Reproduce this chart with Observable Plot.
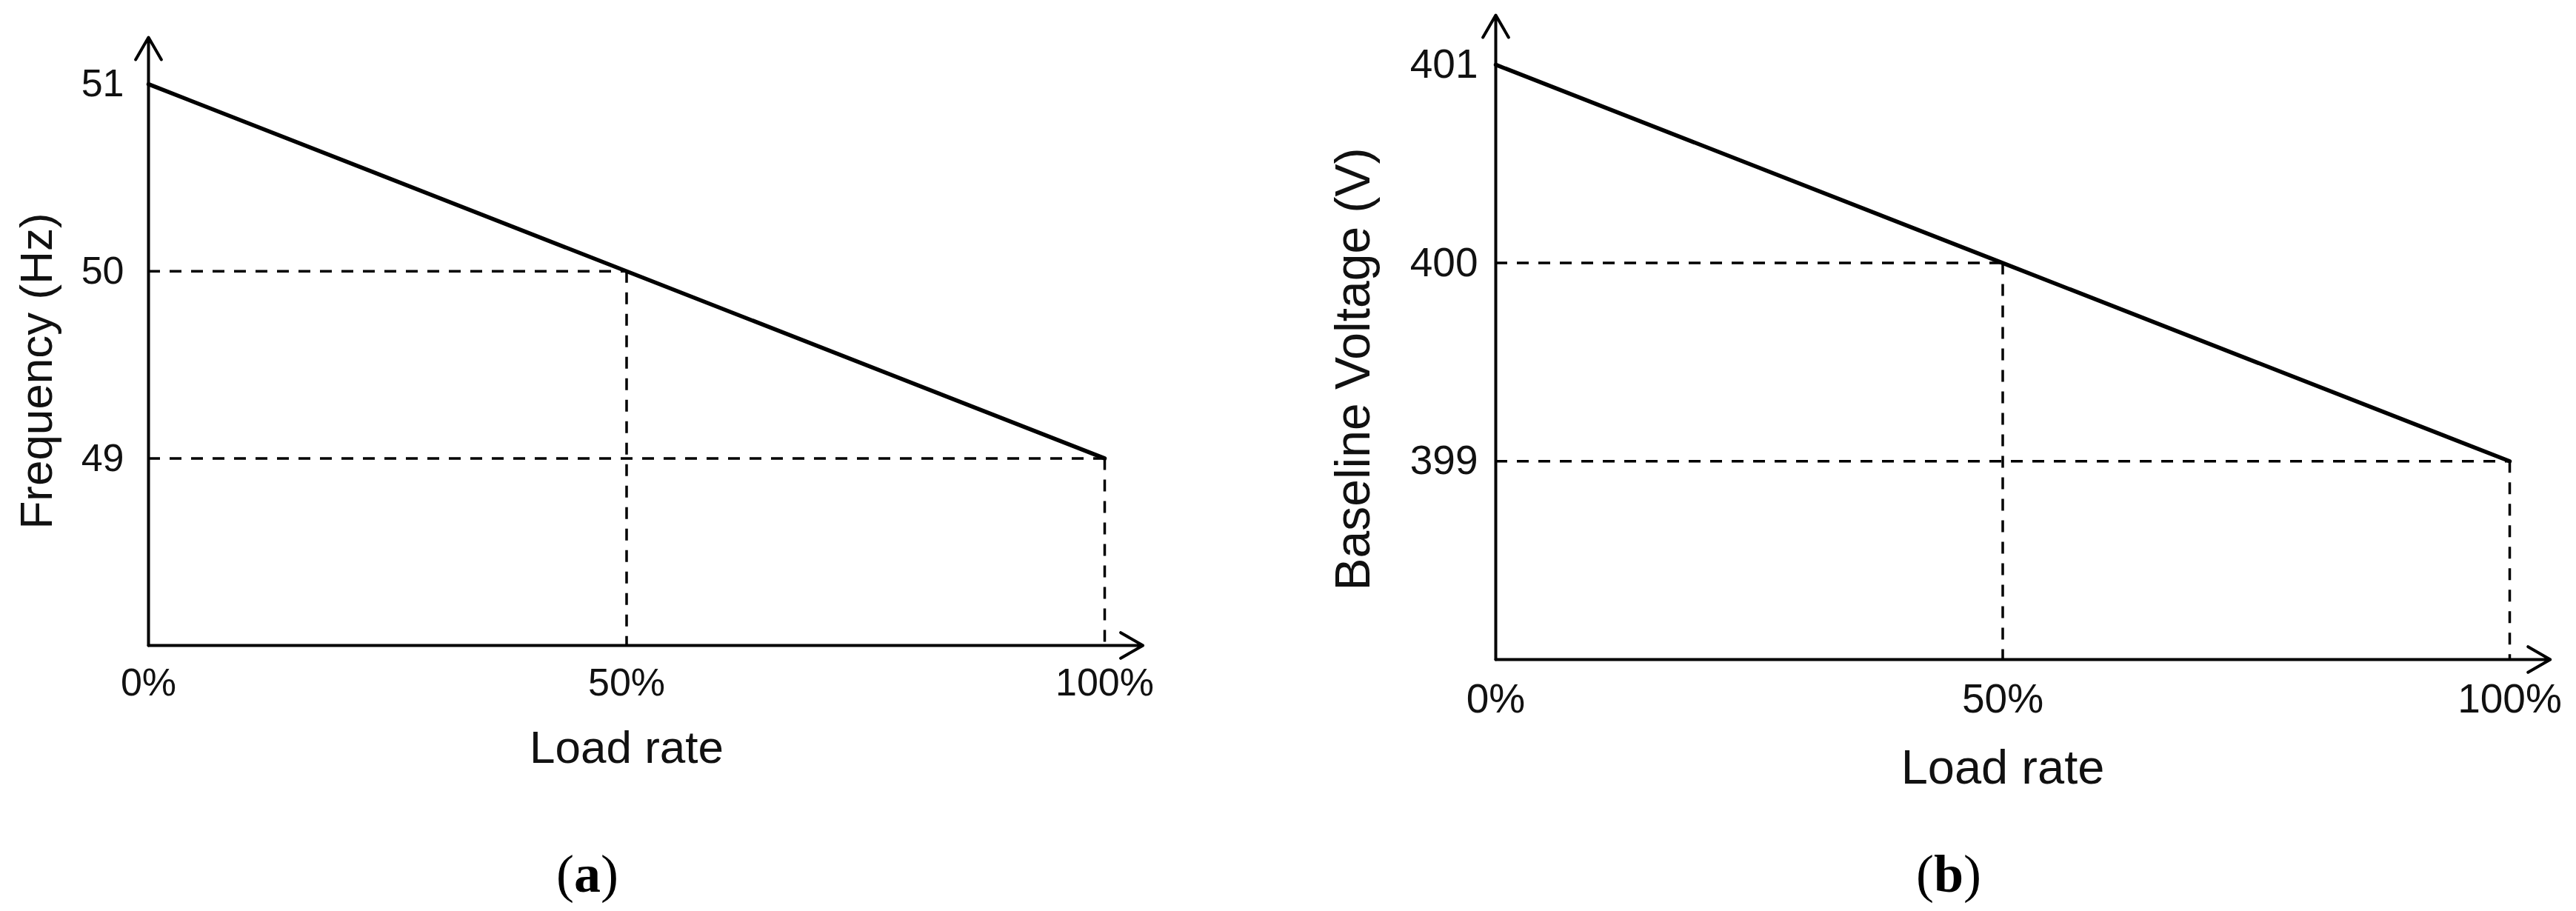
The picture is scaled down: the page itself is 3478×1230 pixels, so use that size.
<!DOCTYPE html>
<html>
<head>
<meta charset="utf-8">
<script src="https://cdn.jsdelivr.net/npm/d3@7"></script>
<script src="https://cdn.jsdelivr.net/npm/@observablehq/plot@0.6"></script>
<style>
  html, body { margin: 0; padding: 0; background: #fff; }
  #wrap { position: relative; width: 3478px; height: 1230px; background: #fff; overflow: hidden; }
  .panel { position: absolute; top: 0; width: 1739px; height: 1230px; }
  .cap { position: absolute; font-family: "Liberation Serif", "Times New Roman", serif; font-size: 72px; line-height: 1; color: #000; transform: translate(-50%, -50%); white-space: nowrap; }
  .cap b { font-weight: bold; }
</style>
</head>
<body>
<div id="wrap">
  <div class="panel" id="pa" style="left:0px"></div>
  <div class="panel" id="pb" style="left:1739px"></div>
  <div class="cap" style="left:793px; top:1180px">(<b>a</b>)</div>
  <div class="cap" style="left:2631px; top:1180px">(<b>b</b>)</div>
</div>
<script>
// ---- data ----
const loadRate = [0, 50, 100];          // % load
const frequency = [51, 50, 49];         // Hz
const voltage = [401, 400, 399];        // V
const xTicks = [0, 50, 100];
const freqTicks = [49, 50, 51];
const voltTicks = [399, 400, 401];
const xTitle = "Load rate";
const freqTitle = "Frequency (Hz)";
const voltTitle = "Baseline Voltage (V)";
const freqAxisRange = [48, 51.25];
const voltAxisRange = [398, 401.25];
const xArrowEnd = 104;

function drawPanel(o) {
  const pts = loadRate.map((x, i) => ({x, y: o.values[i]}));
  const guides = pts.slice(1);
  const [yMin, yTop] = o.yDomain;
  const axes = [
    {x1: 0, y1: yMin, x2: xArrowEnd, y2: yMin},
    {x1: 0, y1: yMin, x2: 0, y2: yTop}
  ];
  return Plot.plot({
    width: 1739,
    height: 1230,
    marginLeft: o.ml, marginRight: o.mr, marginTop: o.mt, marginBottom: o.mb,
    x: {domain: [0, 100]},
    y: {domain: [yMin, yTop]},
    style: {fontFamily: "'Liberation Sans', Arial, sans-serif", background: "#fff", color: "#111", overflow: "visible"},
    marks: [
      Plot.ruleY(guides, {y: "y", x1: d => 0, x2: "x", stroke: "#000", strokeWidth: 3.5, strokeDasharray: "16,13"}),
      Plot.ruleX(guides, {x: "x", y1: "y", y2: d => yMin, stroke: "#000", strokeWidth: 3.5, strokeDasharray: "16,13"}),
      Plot.line(pts, {x: "x", y: "y", stroke: "#000", strokeWidth: 5.5}),
      Plot.arrow(axes, {x1: "x1", y1: "y1", x2: "x2", y2: "y2", stroke: "#000", strokeWidth: 4, headLength: 13, headAngle: 60}),
      Plot.axisX({ticks: xTicks, tickFormat: d => d + "%", tickSize: 0, tickPadding: o.xPad, fontSize: o.tickFont, label: null}),
      Plot.axisY({ticks: o.ticks, tickFormat: d => String(d), tickSize: 0, tickPadding: o.yPad, fontSize: o.tickFont, label: null}),
      Plot.text([xTitle], {text: d => d, frameAnchor: "bottom", dy: o.xLabelDy, fontSize: o.labelFont, lineAnchor: "middle", fill: "#111"}),
      Plot.text([o.yTitle], {text: d => d, frameAnchor: "left", rotate: -90, dx: o.yLabelDx, dy: o.yLabelDy, fontSize: o.yLabelFont, lineAnchor: "middle", textAnchor: "middle", fill: "#111"})
    ]
  });
}

document.getElementById("pa").append(drawPanel({
  values: frequency, ticks: freqTicks, yDomain: freqAxisRange, yTitle: freqTitle,
  ml: 200, mr: 248, mt: 50, mb: 359,
  tickFont: 52, xPad: 31, yPad: 33, labelFont: 62, yLabelFont: 62,
  xLabelDy: 139, yLabelDx: -150, yLabelDy: 40
}));

document.getElementById("pb").append(drawPanel({
  values: voltage, ticks: voltTicks, yDomain: voltAxisRange, yTitle: voltTitle,
  ml: 280, mr: 90, mt: 20, mb: 340,
  tickFont: 55, xPad: 32, yPad: 24, labelFont: 65, yLabelFont: 66,
  xLabelDy: 147, yLabelDx: -192, yLabelDy: 43
}));
</script>
</body>
</html>
